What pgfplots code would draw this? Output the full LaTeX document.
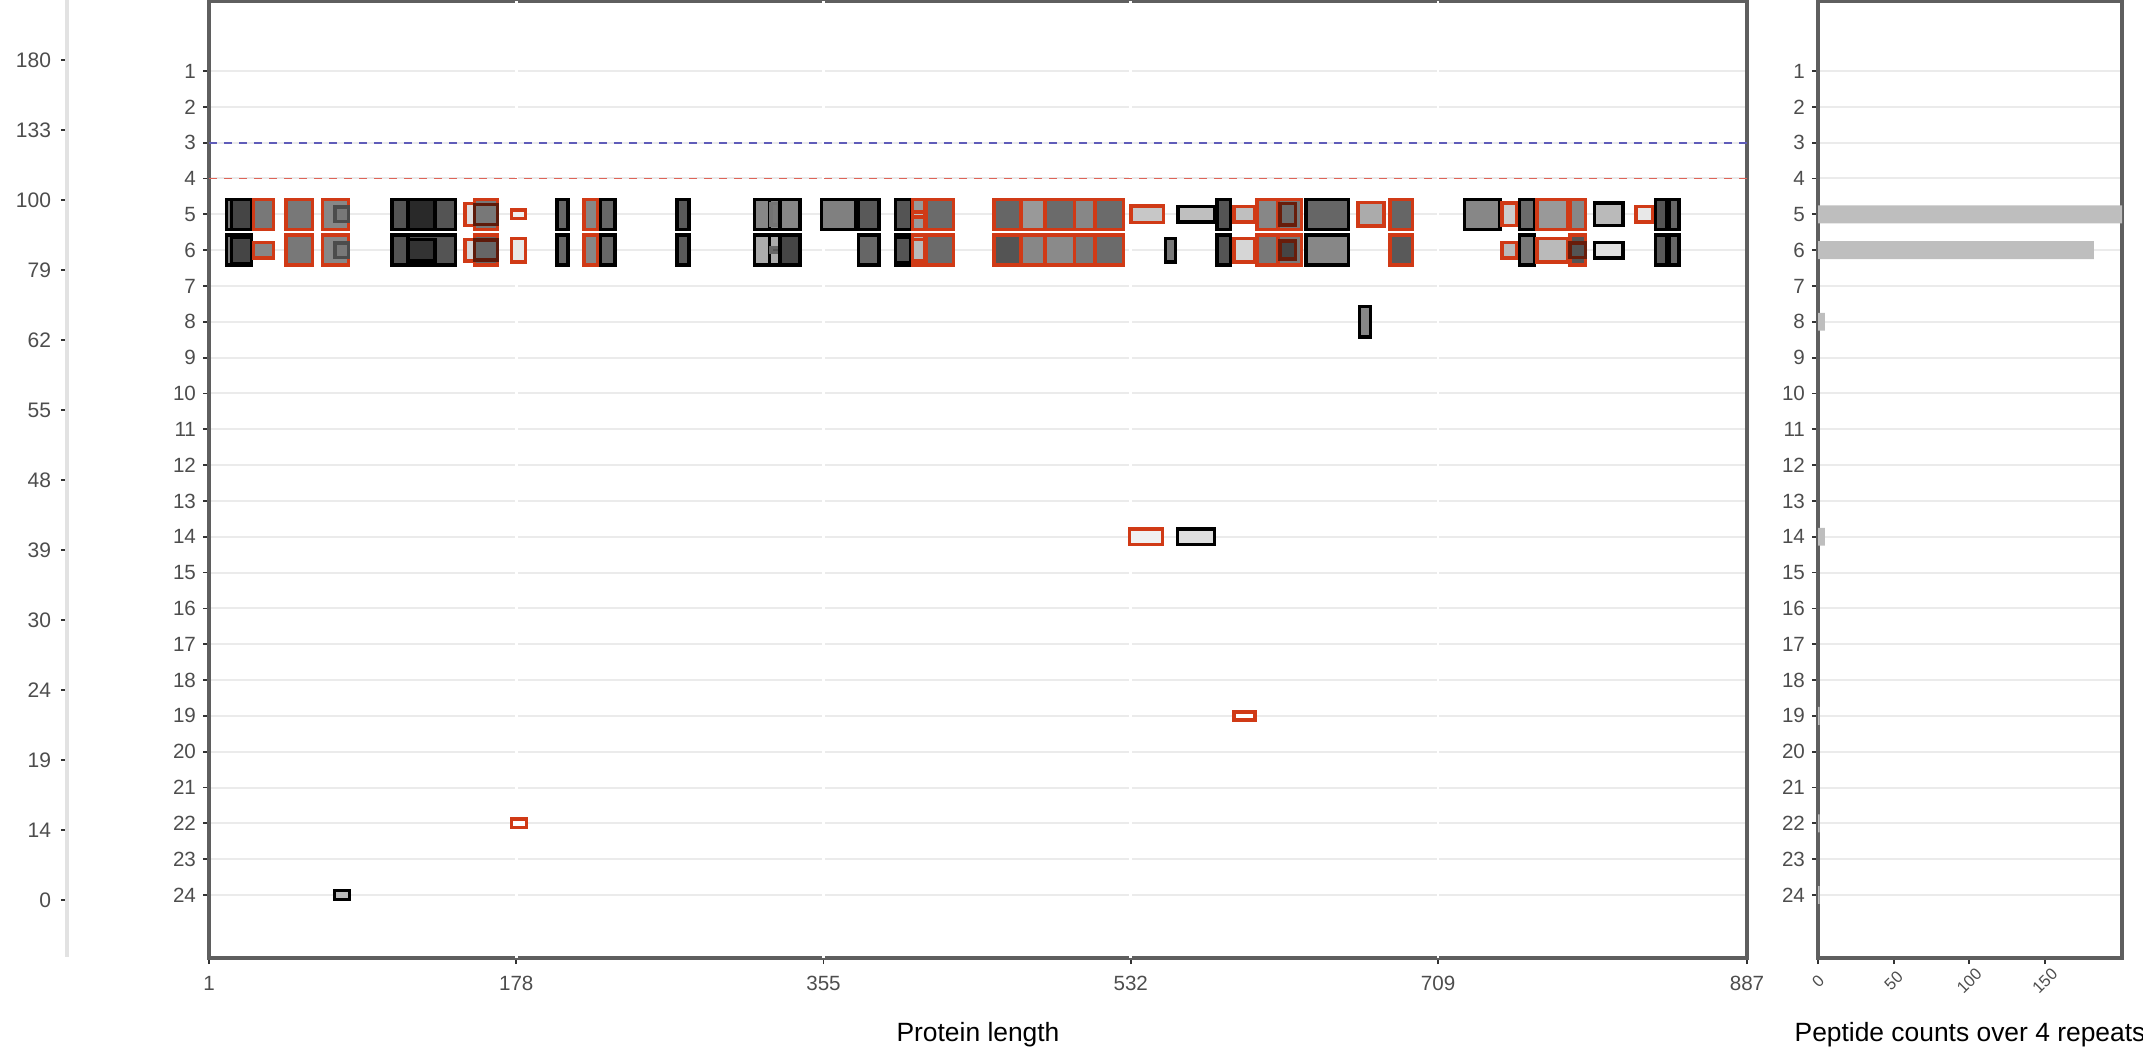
\documentclass[border=0pt]{standalone}
\usepackage{pgfplots}
\pgfplotsset{compat=1.18}
\usepackage{fontspec}
\setmainfont{Liberation Sans}
\definecolor{rd}{RGB}{208,58,22}
\definecolor{tk}{RGB}{77,77,77}
\definecolor{grd}{RGB}{235,235,235}
\definecolor{auxl}{RGB}{226,226,226}
\definecolor{bl}{RGB}{95,92,185}
\definecolor{rl}{RGB}{222,100,88}
\definecolor{frm}{RGB}{95,95,95}
\definecolor{barc}{RGB}{190,190,190}
% x1, x2, row, half height, border colour, fill (percent black)
\newcommand\pep[6]{%
  \pgfmathsetmacro\ya{#3-#4}\pgfmathsetmacro\yb{#3+#4}%
  \addplot[draw=#5, fill=black!#6, line width=1.7pt, line join=miter]
    coordinates {(#1,\ya) (#2,\ya) (#2,\yb) (#1,\yb)} -- cycle;}
\pgfplotsset{
  common/.style={
    scale only axis,
    y dir=reverse,
    axis line style={frm, line width=1.6pt},
    tick style={black!80, line width=0.9pt},
    major tick length=3pt,
    tick align=outside,
    tick pos=left,
    ticklabel style={font=\fontsize{10.3}{12}\selectfont, text=tk},
    /pgf/number format/assume math mode=true,
  }
}
\begin{document}
\begin{tikzpicture}[x=1pt,y=1pt]
\useasboundingbox (0,0) rectangle (1071.5,529);

% auxiliary left scale
\begin{axis}[common,
  at={(33.5pt,50.5pt)}, anchor=south west,
  width=1pt, height=478.5pt,
  xmin=0, xmax=1, ymin=0, ymax=957,
  hide x axis, axis y line*=left,
  y axis line style={auxl, line width=1.6pt, -},
  ytick={60,130,...,900},
  yticklabels={180,133,100,79,62,55,48,39,30,24,19,14,0},
  yticklabel style={font=\fontsize{10.5}{12}\selectfont, xshift=-1.5pt},
]
\addplot[draw=none] coordinates {(0,500)};
\end{axis}

% main panel
\begin{axis}[common,
  at={(104.5pt,50pt)}, anchor=south west,
  width=769pt, height=478.5pt,
  xmin=1, xmax=887, ymin=-0.954, ymax=25.758,
  xtick={1,178,355,532,709,887}, ytick={1,...,24},
  ymajorgrids, major y grid style={grd, line width=1pt},
  xticklabel style={yshift=-2.5pt},
  xlabel={Protein length},
  xlabel style={font=\fontsize{13.2}{15}\selectfont, at={(axis description cs:0.5,0)}, anchor=center, yshift=-38.5pt},
]
% white vertical grid lines
\addplot[white, line width=1.4pt] coordinates {(178,-0.954) (178,25.758)};
\addplot[white, line width=1.4pt] coordinates {(355,-0.954) (355,25.758)};
\addplot[white, line width=1.4pt] coordinates {(532,-0.954) (532,25.758)};
\addplot[white, line width=1.4pt] coordinates {(709,-0.954) (709,25.758)};
% threshold lines
\addplot[bl, line width=0.9pt, dash pattern=on 4pt off 3.5pt] coordinates {(1,3) (887,3)};
\addplot[rl, line width=0.9pt, dash pattern=on 4pt off 3.5pt] coordinates {(1,4) (887,4)};
% row 5
\pep{11.1}{25.5}{5}{0.42}{black}{53}
\pep{13.8}{25.5}{5}{0.42}{black}{73}
\pep{26.6}{38.0}{5}{0.42}{rd}{53}
\pep{45.4}{60.6}{5}{0.42}{rd}{53}
\pep{66.4}{81.4}{5}{0.42}{rd}{47}
\pep{73.5}{81.2}{5}{0.2}{black!70}{53}
\pep{106.4}{131.2}{5}{0.42}{black}{67}
\pep{115.6}{143.0}{5}{0.42}{black}{67}
\pep{115.6}{131.2}{5}{0.42}{black}{84}
\pep{148.5}{154.0}{5}{0.31}{rd}{13}
\pep{154.0}{167.2}{5}{0.42}{rd}{53}
\pep{154.0}{167.2}{5}{0.28}{rd!45!black}{53}
\pep{175.1}{183.2}{5}{0.12}{rd}{6}
\pep{201.5}{207.9}{5}{0.42}{black}{60}
\pep{217.0}{225.1}{5}{0.42}{rd}{47}
\pep{226.4}{234.8}{5}{0.42}{black}{60}
\pep{270.6}{277.5}{5}{0.42}{black}{65}
\pep{315.2}{323.8}{5}{0.42}{black}{47}
\pep{323.8}{341.5}{5}{0.42}{black}{47}
\pep{324.8}{329.0}{5}{0.3}{black!55}{53}
\pep{330.0}{341.5}{5}{0.42}{black}{47}
\pep{353.8}{373.5}{5}{0.42}{black}{50}
\pep{375.1}{386.9}{5}{0.42}{black}{65}
\pep{396.5}{405.7}{5}{0.42}{black}{67}
\pep{406.3}{413.4}{5}{0.42}{rd}{40}
\pep{406.3}{413.4}{5}{0.07}{rd}{25}
\pep{414.0}{429.9}{5}{0.42}{rd}{58}
\pep{453.2}{468.8}{5}{0.42}{rd}{60}
\pep{468.8}{482.6}{5}{0.42}{rd}{40}
\pep{482.6}{499.5}{5}{0.42}{rd}{58}
\pep{499.5}{511.5}{5}{0.42}{rd}{47}
\pep{511.5}{527.8}{5}{0.42}{rd}{58}
\pep{532.1}{550.8}{5}{0.23}{rd}{22}
\pep{559.1}{580.5}{5}{0.21}{black}{25}
\pep{581.7}{589.4}{5}{0.42}{black}{67}
\pep{591.4}{603.5}{5}{0.22}{rd}{25}
\pep{604.6}{616.6}{5}{0.42}{rd}{47}
\pep{617.1}{630.4}{5}{0.42}{rd}{53}
\pep{618.0}{626.9}{5}{0.3}{rd!50!black}{58}
\pep{632.9}{657.5}{5}{0.42}{black}{60}
\pep{662.9}{677.9}{5}{0.33}{rd}{33}
\pep{681.4}{694.4}{5}{0.42}{rd}{60}
\pep{724.3}{744.7}{5}{0.42}{black}{47}
\pep{745.9}{754.6}{5}{0.32}{rd}{20}
\pep{755.8}{764.6}{5}{0.42}{black}{58}
\pep{766.1}{783.9}{5}{0.42}{rd}{40}
\pep{785.1}{793.8}{5}{0.42}{rd}{47}
\pep{799.2}{815.6}{5}{0.32}{black}{27}
\pep{823.1}{832.9}{5}{0.22}{rd}{9}
\pep{834.3}{841.0}{5}{0.42}{black}{67}
\pep{842.1}{847.8}{5}{0.42}{black}{60}
% row 6
\pep{11.1}{25.5}{6}{0.42}{black}{53}
\pep{13.8}{25.5}{6}{0.37}{black}{73}
\pep{26.6}{38.0}{6}{0.22}{rd}{47}
\pep{45.4}{60.6}{6}{0.42}{rd}{53}
\pep{66.4}{81.4}{6}{0.42}{rd}{47}
\pep{73.5}{81.2}{6}{0.2}{black!70}{53}
\pep{106.4}{131.2}{6}{0.42}{black}{67}
\pep{115.6}{143.0}{6}{0.42}{black}{67}
\pep{115.6}{131.2}{6}{0.3}{black}{80}
\pep{148.5}{154.0}{6}{0.3}{rd}{16}
\pep{154.0}{167.2}{6}{0.42}{rd}{60}
\pep{154.0}{167.2}{6}{0.28}{rd!45!black}{60}
\pep{175.1}{183.2}{6}{0.33}{rd}{9}
\pep{201.5}{207.9}{6}{0.42}{black}{60}
\pep{217.0}{225.1}{6}{0.42}{rd}{47}
\pep{226.4}{234.8}{6}{0.42}{black}{60}
\pep{270.6}{277.5}{6}{0.42}{black}{65}
\pep{315.2}{323.8}{6}{0.42}{black}{33}
\pep{323.8}{341.5}{6}{0.42}{black}{33}
\pep{324.8}{329.5}{6}{0.07}{black!60}{67}
\pep{330.0}{341.5}{6}{0.42}{black}{73}
\pep{375.1}{386.9}{6}{0.42}{black}{60}
\pep{396.5}{405.7}{6}{0.42}{black}{67}
\pep{396.5}{405.2}{6}{0.35}{black}{67}
\pep{406.3}{413.4}{6}{0.42}{rd}{27}
\pep{406.3}{413.4}{6}{0.3}{rd}{27}
\pep{414.0}{429.9}{6}{0.42}{rd}{58}
\pep{453.2}{468.8}{6}{0.42}{rd}{67}
\pep{468.8}{482.6}{6}{0.42}{rd}{47}
\pep{482.6}{499.5}{6}{0.42}{rd}{46}
\pep{499.5}{511.5}{6}{0.42}{rd}{53}
\pep{511.5}{527.8}{6}{0.42}{rd}{58}
\pep{551.9}{557.6}{6}{0.33}{black}{53}
\pep{581.7}{589.4}{6}{0.42}{black}{67}
\pep{591.4}{603.5}{6}{0.33}{rd}{16}
\pep{604.6}{616.6}{6}{0.42}{rd}{53}
\pep{617.1}{630.4}{6}{0.42}{rd}{53}
\pep{618.0}{626.9}{6}{0.25}{rd!50!black}{73}
\pep{632.9}{657.5}{6}{0.42}{black}{47}
\pep{681.4}{694.4}{6}{0.42}{rd}{65}
\pep{745.9}{754.6}{6}{0.22}{rd}{27}
\pep{755.8}{764.6}{6}{0.42}{black}{53}
\pep{766.1}{783.9}{6}{0.33}{rd}{27}
\pep{785.1}{793.8}{6}{0.42}{rd}{67}
\pep{785.1}{793.8}{6}{0.2}{rd!50!black}{67}
\pep{799.2}{815.6}{6}{0.22}{black}{12}
\pep{834.3}{841.0}{6}{0.42}{black}{65}
\pep{842.1}{847.8}{6}{0.42}{black}{60}
% other rows
\pep{663.7}{670.0}{8}{0.42}{black}{47}
\pep{531.4}{550.4}{14}{0.22}{rd}{6}
\pep{558.8}{580.4}{14}{0.22}{black}{13}
\pep{591.4}{603.5}{19}{0.11}{rd}{0}
\pep{175.4}{184.0}{22}{0.12}{rd}{0}
\pep{73.3}{81.9}{24}{0.13}{black}{27}
\end{axis}

% right panel
\begin{axis}[common,
  at={(909pt,50pt)}, anchor=south west,
  width=152pt, height=478.5pt,
  xmin=0, xmax=201, ymin=-0.954, ymax=25.758,
  xtick={0,50,100,150}, ytick={1,...,24},
  ymajorgrids, major y grid style={grd, line width=1pt},
  xticklabel style={font=\fontsize{8.2}{9}\selectfont, anchor=center, yshift=-8.5pt, rotate=45},
  xlabel={Peptide counts over 4 repeats},
  xlabel style={font=\fontsize{13.2}{15}\selectfont, at={(axis description cs:0.5,0)}, anchor=center, yshift=-38.5pt},
]
\addplot[xbar, bar width=0.5, fill=barc, draw=none]
  coordinates {(201,5) (182.4,6) (4.5,8) (4.5,14) (1,19) (1,22) (1,24)};
\end{axis}
\end{tikzpicture}
\end{document}
